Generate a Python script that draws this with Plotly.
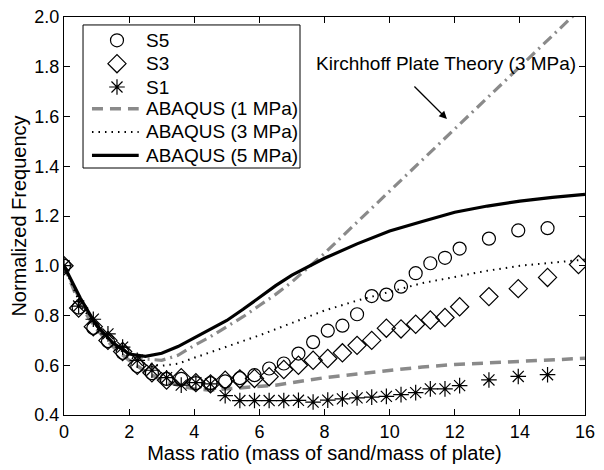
import plotly.graph_objects as go

# ---------------- data ----------------
x_exp = [0, 0.45, 0.9, 1.35, 1.8, 2.25, 2.7, 3.15, 3.6, 4.05, 4.5, 4.95, 5.4, 5.85, 6.3,
         6.75, 7.2, 7.65, 8.1, 8.55, 9.0, 9.45, 9.9, 10.35, 10.8, 11.25, 11.7, 12.15,
         13.05, 13.95, 14.85]
s5 = [1.0, 0.832, 0.75, 0.697, 0.65, 0.597, 0.568, 0.545, 0.545, 0.528, 0.528, 0.535,
      0.548, 0.56, 0.587, 0.607, 0.647, 0.693, 0.739, 0.759, 0.805, 0.878, 0.884, 0.916,
      0.97, 1.01, 1.032, 1.069, 1.109, 1.142, 1.151]
x_s3 = x_exp + [15.8]
s3 = [1.0, 0.83, 0.755, 0.70, 0.655, 0.60, 0.57, 0.54, 0.55, 0.53, 0.525, 0.54, 0.545,
      0.547, 0.554, 0.583, 0.60, 0.62, 0.627, 0.65, 0.68, 0.70, 0.749, 0.746, 0.765,
      0.782, 0.792, 0.835, 0.876, 0.908, 0.953, 1.005]
s1 = [1.0, 0.838, 0.785, 0.726, 0.673, 0.62, 0.58, 0.55, 0.52, 0.53, 0.525, 0.478,
      0.458, 0.458, 0.458, 0.458, 0.459, 0.452, 0.46, 0.465, 0.469, 0.472, 0.475, 0.482,
      0.49, 0.505, 0.505, 0.518, 0.541, 0.555, 0.562]

x_fem = [0, 0.5, 1, 1.5, 2, 2.5, 3, 3.5, 4, 4.5, 5, 5.5, 6, 6.5, 7, 8, 9, 10, 11, 12,
         13, 14, 15, 16]
abaqus_1 = [1.0, 0.84, 0.745, 0.675, 0.62, 0.575, 0.54, 0.52, 0.505, 0.50, 0.505, 0.51,
            0.515, 0.52, 0.53, 0.55, 0.565, 0.58, 0.593, 0.603, 0.61, 0.617, 0.623, 0.628]
abaqus_3 = [1.0, 0.845, 0.75, 0.685, 0.635, 0.605, 0.598, 0.606, 0.63, 0.652, 0.675,
            0.697, 0.72, 0.745, 0.77, 0.82, 0.86, 0.895, 0.93, 0.955, 0.98, 1.0, 1.012,
            1.025]
abaqus_5 = [1.0, 0.87, 0.76, 0.69, 0.645, 0.636, 0.648, 0.675, 0.71, 0.745, 0.78, 0.825,
            0.872, 0.92, 0.962, 1.03, 1.088, 1.14, 1.178, 1.215, 1.24, 1.26, 1.275, 1.287]
kirchhoff = [1.0, 0.86, 0.76, 0.69, 0.645, 0.625, 0.62, 0.64, 0.68, 0.715, 0.755, 0.795,
             0.84, 0.885, 0.935, 1.05, 1.175, 1.30, 1.425, 1.55, 1.675, 1.80, 1.925, 2.05]

x_ticks = [0, 2, 4, 6, 8, 10, 12, 14, 16]
y_ticks = [0.4, 0.6, 0.8, 1.0, 1.2, 1.4, 1.6, 1.8, 2.0]

legend_labels = ["S5", "S3", "S1", "ABAQUS (1 MPa)", "ABAQUS (3 MPa)", "ABAQUS (5 MPa)"]

FONT = "Liberation Sans, Arial, Helvetica, sans-serif"
GREY = "#8a8a8a"

styles = {
    "S5": dict(symbol="circle-open", size=13),
    "S3": dict(symbol="diamond-open", size=14),
    "S1": dict(symbol="asterisk-open", size=13),
    "ABAQUS (1 MPa)": dict(color=GREY, width=3.5, dash="11px,7px"),
    "ABAQUS (3 MPa)": dict(color="black", width=2, dash="1.5px,5px"),
    "ABAQUS (5 MPa)": dict(color="black", width=3.2),
}

fig = go.Figure()

# model curves
fig.add_trace(go.Scatter(x=x_fem, y=kirchhoff, mode="lines", showlegend=False,
                         line=dict(color=GREY, width=3.2, dash="11px,5px,2px,5px")))
fig.add_trace(go.Scatter(x=x_fem, y=abaqus_1, mode="lines", showlegend=False,
                         line=styles["ABAQUS (1 MPa)"]))
fig.add_trace(go.Scatter(x=x_fem, y=abaqus_3, mode="lines", showlegend=False,
                         line=styles["ABAQUS (3 MPa)"]))
fig.add_trace(go.Scatter(x=x_fem, y=abaqus_5, mode="lines", showlegend=False,
                         line=styles["ABAQUS (5 MPa)"]))

# experiments
for xs, ys, key in [(x_exp, s5, "S5"), (x_s3, s3, "S3"), (x_exp, s1, "S1")]:
    fig.add_trace(go.Scatter(x=xs, y=ys, mode="markers", showlegend=False,
                             marker=dict(color="black", line=dict(width=1.2, color="black"),
                                         **styles[key])))

# ---------------- legend (drawn in plot-area fractions) ----------------
box_x0, box_x1, box_y0, box_y1 = 0.0365, 0.453, 0.6206, 0.980
row_y = [0.9415, 0.8827, 0.8241, 0.7696, 0.7111, 0.6525]
sym_x, line_x0, line_x1, text_x = 0.1017, 0.0537, 0.1434, 0.154

fig.add_shape(type="rect", xref="paper", yref="paper", x0=box_x0, x1=box_x1,
              y0=box_y0, y1=box_y1, line=dict(color="black", width=1),
              fillcolor="white", layer="below")

for label, ry in zip(legend_labels, row_y):
    st = styles[label]
    if "symbol" in st:
        fig.add_trace(go.Scatter(x=[sym_x], y=[ry], xaxis="x2", yaxis="y2",
                                 mode="markers", showlegend=False, hoverinfo="skip",
                                 marker=dict(color="black",
                                             line=dict(width=1.2, color="black"), **st)))
    else:
        fig.add_shape(type="line", xref="paper", yref="paper", x0=line_x0, x1=line_x1,
                      y0=ry, y1=ry, line=st, layer="above")
    fig.add_annotation(x=text_x, y=ry, xref="paper", yref="paper", text=label,
                       showarrow=False, xanchor="left", yanchor="middle",
                       font=dict(family=FONT, size=19, color="black"))

fig.add_annotation(x=11.76, y=1.59, ax=-34, ay=-34, xref="x", yref="y",
                   showarrow=True, arrowhead=2, arrowsize=1.2, arrowwidth=1.3,
                   arrowcolor="black", text="")
fig.add_annotation(x=11.73, y=1.812, xref="x", yref="y", showarrow=False,
                   text="Kirchhoff Plate Theory (3 MPa)",
                   font=dict(family=FONT, size=19, color="black"))

axis_common = dict(showline=True, linecolor="black", linewidth=1, mirror="ticks",
                   ticks="inside", ticklen=6, tickcolor="black", showgrid=False,
                   zeroline=False, automargin=False, ticklabeloverflow="allow",
                   tickfont=dict(family=FONT, size=18, color="black"))

fig.update_xaxes(range=[0, 16], tickvals=x_ticks,
                 ticktext=[str(v) for v in x_ticks],
                 title=dict(text="Mass ratio (mass of sand/mass of plate)",
                            font=dict(family=FONT, size=20, color="black"), standoff=4),
                 **axis_common)
fig.update_yaxes(range=[0.4, 2.0], tickvals=y_ticks,
                 ticktext=[f"{v:.1f}" for v in y_ticks],
                 title=dict(text="Normalized Frequency",
                            font=dict(family=FONT, size=20, color="black"), standoff=4),
                 **axis_common)

fig.update_layout(
    width=604, height=470,
    margin=dict(l=56, r=27, t=9, b=63),
    paper_bgcolor="white", plot_bgcolor="white",
    font=dict(family=FONT, color="black"),
    showlegend=False,
    xaxis2=dict(overlaying="x", range=[0, 1], visible=False, fixedrange=True),
    yaxis2=dict(overlaying="y", range=[0, 1], visible=False, fixedrange=True),
)

fig.write_html("out.html")
